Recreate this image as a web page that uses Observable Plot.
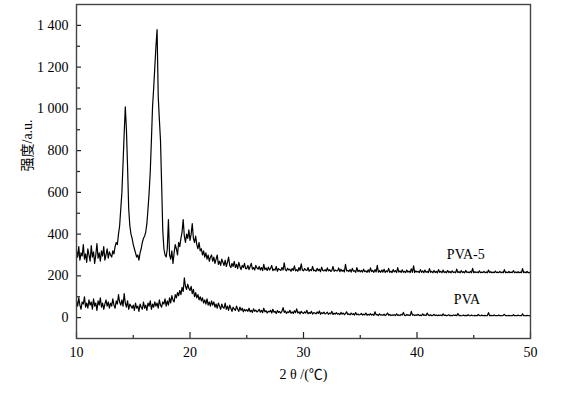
<!DOCTYPE html>
<html>
<head>
<meta charset="utf-8">
<script src="https://cdn.jsdelivr.net/npm/d3@7"></script>
<script src="https://cdn.jsdelivr.net/npm/@observablehq/plot@0.6"></script>
<style>
  html, body { margin: 0; padding: 0; background: white; }
</style>
</head>
<body>
<div id="chart"></div>
<script>
// 2θ grid: 10.0 to 50.0 in 0.1° steps
const angleStart = 10, angleStep = 0.1;

// PVA-5 intensity (a.u.), one value per 0.1°
const pva5 = [
  320,290,340,275,310,295,350,280,305,265,
  330,300,270,345,290,315,260,300,355,285,
  310,270,320,295,340,275,300,330,285,315,
  300,290,320,305,340,360,350,400,440,520,
  600,740,880,1010,900,720,520,440,400,380,
  350,330,310,290,300,275,310,330,360,380,
  390,410,450,520,600,700,850,1010,1100,1200,
  1300,1380,1060,950,850,640,420,330,300,290,
  330,470,300,280,320,260,310,350,330,300,
  360,340,380,410,470,390,360,400,380,420,
  370,400,450,380,360,390,350,330,360,320,
  330,300,320,290,310,280,300,270,290,300,
  270,290,260,280,300,255,270,250,280,265,
  250,275,245,265,290,250,240,260,245,270,
  240,255,235,265,245,230,250,240,260,235,
  235,250,230,245,260,232,240,228,250,238,
  232,245,228,240,225,255,230,238,226,242,
  228,236,250,225,232,228,245,222,235,230,
  226,240,228,262,230,224,236,228,232,222,
  235,226,248,224,230,222,240,226,258,228,
  224,235,228,226,240,222,230,225,245,224,
  228,222,236,225,232,220,242,226,224,230,
  222,238,224,230,221,226,245,222,228,224,
  225,238,220,232,222,228,219,255,224,226,
  221,230,218,236,222,225,217,240,220,227,
  219,226,218,232,220,224,217,229,218,238,
  220,226,217,230,219,250,218,225,217,228,
  218,232,216,224,219,236,217,223,216,230,
  219,225,216,240,218,224,216,229,217,222,
  216,228,218,223,216,234,217,248,216,224,
  218,222,216,230,217,224,215,228,217,221,
  216,235,217,222,215,226,216,221,215,230,
  217,222,215,228,216,220,215,226,216,221,
  215,224,216,219,215,232,216,220,215,225,
  216,220,215,226,216,219,215,222,215,236,
  215,220,216,219,215,224,215,218,216,222,
  215,219,215,228,216,220,215,218,215,223,
  216,218,215,222,215,219,215,230,215,218,
  215,221,215,218,216,225,215,219,215,220,
  215,218,215,235,215,219,215,221,215,217,
  216
];

// PVA intensity (a.u.), one value per 0.1°
const pva = [
  80,55,95,60,40,75,65,100,50,70,
  45,85,60,75,40,90,55,70,35,80,
  60,95,50,70,40,65,85,55,75,45,
  70,55,90,60,45,80,65,110,75,60,
  85,55,115,70,50,80,40,65,55,45,
  60,35,70,45,55,30,65,50,40,75,
  45,60,35,70,55,80,40,65,50,75,
  55,70,45,85,60,50,75,65,90,55,
  80,60,95,70,105,85,75,110,95,120,
  105,130,110,145,125,190,150,135,160,140,
  130,150,115,135,100,120,95,110,85,100,
  80,95,70,85,65,90,60,75,55,80,
  60,75,50,65,45,70,55,40,65,50,
  45,70,40,55,35,60,45,30,50,40,
  35,55,40,30,50,35,45,28,40,32,
  38,30,45,28,35,25,42,30,36,27,
  32,40,26,35,24,45,28,33,22,30,
  28,35,22,40,26,30,20,34,25,29,
  22,30,48,25,32,20,28,24,35,21,
  27,20,33,24,42,22,28,18,30,23,
  20,28,22,35,18,25,20,30,17,24,
  22,18,27,20,32,16,24,19,26,18,
  20,26,16,22,18,30,15,21,17,24,
  16,20,14,25,17,22,14,19,28,15,
  18,13,22,15,19,12,24,14,17,13,
  15,20,12,17,13,22,11,16,12,19,
  12,16,11,28,13,15,10,18,12,14,
  11,17,10,14,22,12,15,10,13,11,
  14,10,18,11,13,10,16,12,25,11,
  10,15,11,13,10,30,12,14,10,13,
  11,16,10,12,9,18,11,13,10,22,
  12,10,14,9,11,16,10,13,9,12,
  10,13,9,18,10,12,9,11,14,9,
  11,9,13,10,12,9,20,10,11,9,
  10,12,9,11,9,14,10,9,12,10,
  9,11,10,9,15,10,9,12,9,10,
  11,9,10,24,9,11,10,9,13,9,
  10,9,12,9,10,9,11,16,9,10,
  9,11,9,10,9,14,9,10,9,12,
  9,10,9,18,9,10,9,11,9,10,
  9
];

const xMajorTicks = [10, 20, 30, 40, 50];
const xMinorTicks = [15, 25, 35, 45];
const yMajorTicks = [0, 200, 400, 600, 800, 1000, 1200, 1400];
const yMinorTicks = [100, 300, 500, 700, 900, 1100, 1300];

const seriesLabels = [
  {name: "PVA-5", x: 44.3, y: 300},
  {name: "PVA", x: 44.4, y: 85}
];
const xTitle = "2 θ /(℃)";
const yTitle = "强度/a.u.";

const toRows = (vals) => vals.map((v, i) => ({angle: +(angleStart + i * angleStep).toFixed(1), value: v}));

const fmt = d3.formatLocale({decimal: ".", thousands: " ", grouping: [3], currency: ["", ""]}).format(",d");

const W = 566, H = 398, mL = 76, mR = 36, mT = 4, mB = 60;
const innerW = W - mL - mR, innerH = H - mT - mB;

const chart = Plot.plot({
  width: W,
  height: H,
  marginLeft: mL,
  marginRight: mR,
  marginTop: mT,
  marginBottom: mB,
  style: {
    fontFamily: "'Liberation Serif', 'Noto Sans CJK SC', serif",
    fontSize: "14px",
    background: "white",
    color: "black"
  },
  x: {domain: [10, 50]},
  y: {domain: [-100, 1500]},
  marks: [
    Plot.line(toRows(pva5), {x: "angle", y: "value", stroke: "black", strokeWidth: 1.2}),
    Plot.line(toRows(pva), {x: "angle", y: "value", stroke: "black", strokeWidth: 1.2}),
    // tick labels
    Plot.axisX(xMajorTicks, {tickSize: 0, tickPadding: 9, label: null, tickFormat: d => String(d), fontSize: 14}),
    Plot.axisY(yMajorTicks, {tickSize: 0, tickPadding: 8, label: null, tickFormat: fmt, fontSize: 14}),
    // inward ticks
    Plot.tickX(xMajorTicks, {x: d => d, insetTop: innerH - 6, stroke: "#222", strokeWidth: 1.2}),
    Plot.tickX(xMinorTicks, {x: d => d, insetTop: innerH - 3, stroke: "#222", strokeWidth: 1.2}),
    Plot.tickY(yMajorTicks, {y: d => d, insetRight: innerW - 5, stroke: "#222", strokeWidth: 1.2}),
    Plot.tickY(yMinorTicks, {y: d => d, insetRight: innerW - 4, stroke: "#222", strokeWidth: 1.2}),
    Plot.frame({stroke: "#444", strokeWidth: 1.4}),
    Plot.text(seriesLabels, {x: "x", y: "y", text: "name", fontSize: 14, textAnchor: "middle"}),
    Plot.text([xTitle], {frameAnchor: "bottom", dy: 40, text: d => d, fontSize: 14}),
    Plot.text([yTitle], {frameAnchor: "left", dx: -49, rotate: -90, text: d => d, fontSize: 14})
  ]
});
document.getElementById("chart").appendChild(chart);
</script>
</body>
</html>
